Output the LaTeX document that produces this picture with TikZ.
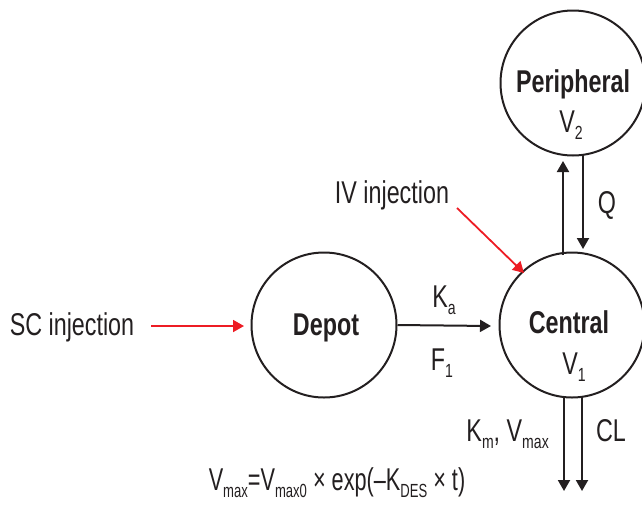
\documentclass[tikz,border=0pt]{standalone}
\usepackage{fontspec}
\setmainfont{Liberation Sans}[FakeStretch=0.74]
\usetikzlibrary{arrows.meta}
\definecolor{ink}{HTML}{231F20}
\definecolor{inkred}{HTML}{ED1C24}
\newcommand\lsub[1]{\raisebox{-7pt}{\fontsize{19}{19}\selectfont #1}}
\tikzset{
  comp/.style={circle, draw=ink, line width=2pt, minimum size=145pt, inner sep=0pt},
  lbl/.style={text=ink, inner sep=0pt, anchor=base},
  flow/.style={draw=ink, line width=2pt, -{Triangle[length=11pt,width=12pt]}},
  inj/.style={draw=inkred, line width=1.8pt, -{Triangle[length=11pt,width=12pt]}}
}
\begin{document}
\begin{tikzpicture}[x=1pt,y=-1pt, font=\fontsize{31.5}{34}\selectfont]
\useasboundingbox (0,0) rectangle (642,504);
\node[comp] (per) at (573,83) {};
\node[comp] (cen) at (572,325) {};
\node[comp] (dep) at (324,325) {};
\node[lbl] (pertxt) at (573,92) {\textbf{Peripheral}};
\node[lbl] (v2) at (571,132) {V\lsub{2}};
\node[lbl] (centxt) at (569,333) {\textbf{Central}};
\node[lbl] (v1) at (574,374) {V\lsub{1}};
\node[lbl] (deptxt) at (326,335) {\textbf{Depot}};
% central <-> peripheral
\coordinate (cu1) at (563,255);
\coordinate (pu1) at (563,161);
\coordinate (pd1) at (583,155);
\coordinate (cd1) at (583,249);
\draw[flow] (cu1) -- (pu1);
\draw[flow] (pd1) -- (cd1);
\node[lbl] (q) at (607,213) {Q};
% depot -> central
\coordinate (dc) at (491,326);
\draw[flow] (dep.east) -- (dc);
\node[lbl] (ka) at (444,307) {K\lsub{a}};
\node[lbl] (f1) at (442,370) {F\lsub{1}};
% elimination
\coordinate (e1s) at (564,396);
\coordinate (e1e) at (564,491);
\coordinate (e2s) at (582,396);
\coordinate (e2e) at (582,491);
\draw[flow] (e1s) -- (e1e);
\draw[flow] (e2s) -- (e2e);
\node[lbl, anchor=base east] (kmv) at (549,441) {K\lsub{m}, V\lsub{max}};
\node[lbl] (cl) at (611,441) {CL};
\node[lbl] (form) at (337,490) {\scalebox{0.93}[1]{V\lsub{max}=V\lsub{max0} × exp(–K\lsub{DES} × t)}};
% injections
\node[lbl] (sc) at (72,335) {SC injection};
\coordinate (scs) at (151,326);
\coordinate (sce) at (244,326);
\draw[inj] (scs) -- (sce);
\node[lbl] (iv) at (392,203) {IV injection};
\coordinate (ivs) at (457,208);
\coordinate (ive) at (524,273);
\draw[inj] (ivs) -- (ive);
\end{tikzpicture}
\end{document}
